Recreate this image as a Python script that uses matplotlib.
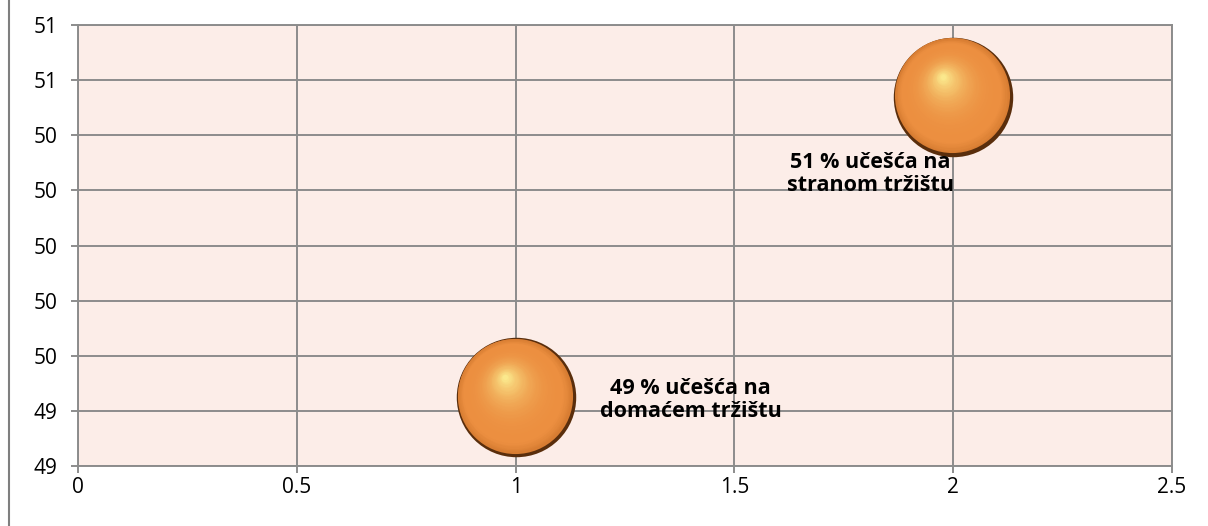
import numpy as np
import matplotlib
matplotlib.use('Agg')
import matplotlib.pyplot as plt
from matplotlib.transforms import offset_copy
from matplotlib.lines import Line2D
from matplotlib.colors import to_rgb

# data
x_vals = [1, 2]
y_vals = [49.35, 50.44]
labels = ['49 % učešća na\ndomaćem tržištu', '51 % učešća na\nstranom tržištu']
label_x = [1.40, 1.81]
label_y = [49.34, 50.16]
x_ticks = [0, 0.5, 1, 1.5, 2, 2.5]
x_tick_labels = ['0', '0.5', '1', '1.5', '2', '2.5']
y_ticks = [49.1, 49.3, 49.5, 49.7, 49.9, 50.1, 50.3, 50.5, 50.7]
y_tick_labels = ['49', '49', '50', '50', '50', '50', '50', '51', '51']

plt.rcParams['font.family'] = ['Open Sans', 'DejaVu Sans']

fig = plt.figure(figsize=(12.08, 5.26), dpi=100)
ax = fig.add_axes([78/1208, 60/526, 1094/1208, 441/526])
ax.set_facecolor('#fcede8')
ax.set_xlim(0, 2.5)
ax.set_ylim(49.1, 50.7)
ax.set_xticks(x_ticks)
ax.set_xticklabels(x_tick_labels)
ax.set_yticks(y_ticks)
ax.set_yticklabels(y_tick_labels)
ax.grid(True, color='#8c8c8c', linewidth=1.4)
ax.set_axisbelow(True)
for s in ax.spines.values():
    s.set_color('#8c8c8c')
    s.set_linewidth(1.4)
ax.tick_params(length=5, width=1.4, color='#8c8c8c', labelsize=15)
ax.tick_params(axis='y', pad=10)
ax.tick_params(axis='x', pad=3)

# glossy bubbles: stacked discs, dark rim at lower right, highlight upper left
diam_pt = 86.0
edge = np.array(to_rgb('#5a2e0c'))
mid = np.array(to_rgb('#d47a30'))
body = np.array(to_rgb('#ec8f40'))
light = np.array(to_rgb('#fbe88c'))
n = 45
for i in range(len(x_vals)):
    ax.scatter([x_vals[i]], [y_vals[i]], s=diam_pt**2, color=edge, linewidths=0, zorder=3)
    for k in range(1, n):
        t = k / (n - 1)
        d = diam_pt * (0.985 - 0.94 * t)
        dx = -0.6 - 0.08 * diam_pt * t
        dy = 0.6 + 0.16 * diam_pt * t
        if t < 0.15:
            c = mid + (body - mid) * (t / 0.15)
        else:
            c = body + (light - body) * ((t - 0.15) / 0.85) ** 2.6
        tr = offset_copy(ax.transData, fig=fig, x=dx, y=dy, units='points')
        ax.scatter([x_vals[i]], [y_vals[i]], s=d**2, color=np.clip(c, 0, 1),
                   linewidths=0, transform=tr, zorder=3)

for i in range(len(labels)):
    ax.text(label_x[i], label_y[i], labels[i], ha='center', va='center',
            fontsize=15.5, fontweight='bold', color='black', zorder=4, linespacing=1.15)

fig.add_artist(Line2D([9/1208, 9/1208], [0, 1], color='#7f7f7f', linewidth=1.5))

fig.savefig('out.png', dpi=100)
